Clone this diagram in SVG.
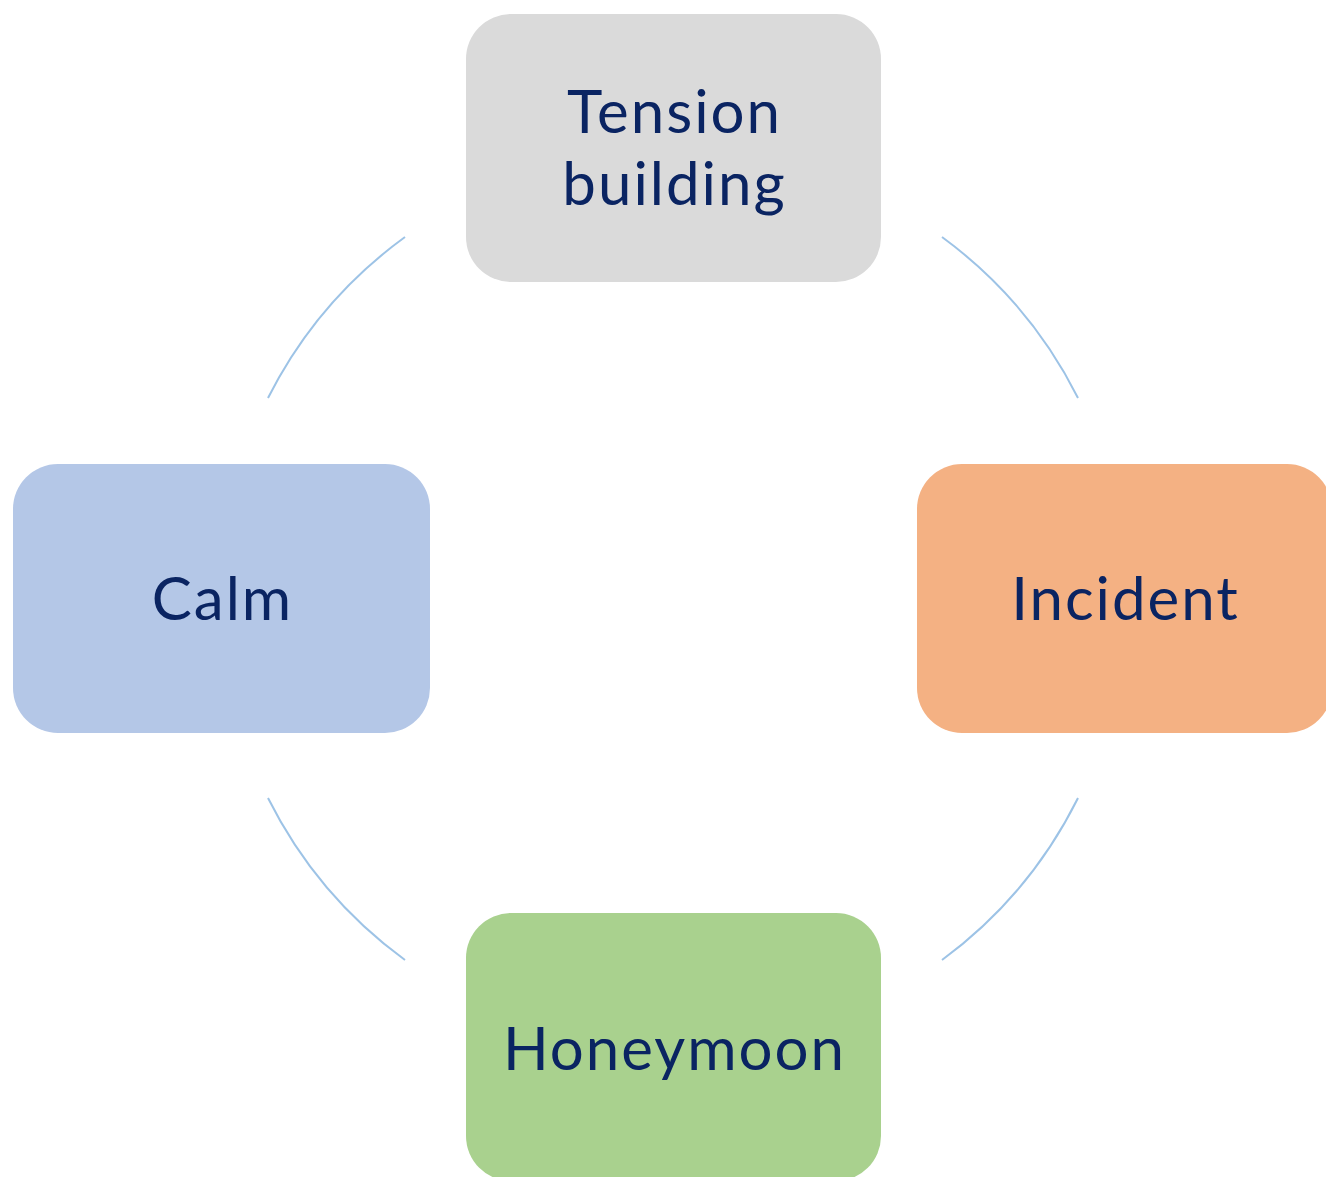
<svg xmlns="http://www.w3.org/2000/svg" width="1326" height="1177" viewBox="0 0 1326 1177">
<style>
.lbl{font-family:Lato,"Open Sans",sans-serif;font-size:60px;letter-spacing:2px;fill:#0a2462;text-anchor:middle}
.arc{fill:none;stroke:#9dc3e6;stroke-width:2}
</style>
<rect width="1326" height="1177" fill="#ffffff"/>
<g id="connectors">
<path class="arc" d="M268,398 A450,450 0 0 1 405,237"/>
<path class="arc" d="M942,237 A450,450 0 0 1 1078,398"/>
<path class="arc" d="M1078,798 A450,450 0 0 1 942,960"/>
<path class="arc" d="M405,960 A450,450 0 0 1 268,798"/>
</g>
<g id="tension">
<rect x="466" y="14" width="415" height="268" rx="45" fill="#dadada"/>
<text class="lbl" x="674.5" y="133">Tension<tspan x="674.5" y="205">building</tspan></text>
</g>
<g id="calm">
<rect x="13" y="464" width="417" height="269" rx="45" fill="#b4c7e7"/>
<text class="lbl" x="222.5" y="620">Calm</text>
</g>
<g id="incident">
<rect x="917" y="464" width="415" height="269" rx="45" fill="#f4b183"/>
<text class="lbl" x="1125.5" y="620">Incident</text>
</g>
<g id="honeymoon">
<rect x="466" y="913" width="415" height="268" rx="45" fill="#a9d18e"/>
<text class="lbl" x="674.5" y="1070">Honeymoon</text>
</g>
</svg>
